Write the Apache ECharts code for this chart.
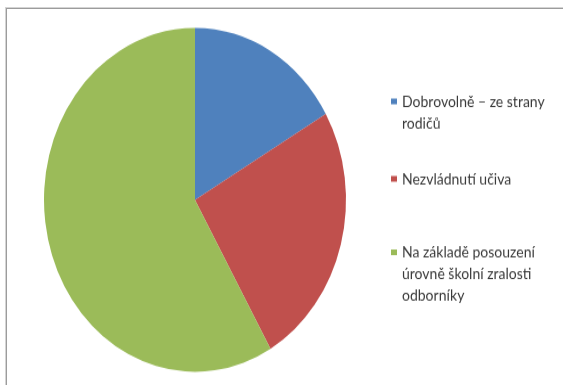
<!DOCTYPE html>
<html>
<head>
<meta charset="utf-8">
<script src="https://cdn.jsdelivr.net/npm/echarts@6/dist/echarts.min.js"></script>
<style>
  html, body { margin: 0; padding: 0; background: #fff; }
  #wrap { position: relative; width: 563px; height: 385px; overflow: hidden; background: #fff; }
  #frame { position: absolute; left: 6px; top: 8px; width: 700px; height: 500px;
           border-left: 1px solid #9c9c9c; border-top: 1px solid #9c9c9c;
           box-shadow: -1px -1px 0 #d4d4d4; }
  /* the chart area is drawn in a shorter box and stretched vertically */
  #chart { position: absolute; left: 0; top: 0; width: 563px; height: 338px;
           transform: scaleY(1.139); transform-origin: 0 0; }
</style>
</head>
<body>
<div id="wrap">
  <div id="frame"></div>
  <div id="chart"></div>
</div>
<script>
// Categories and their counts
const categories = [
  'Dobrovolně – ze strany rodičů',
  'Nezvládnutí učiva',
  'Na základě posouzení úrovně školní zralosti odborníky'
];
const values = [2, 3, 7];
// Legend text, broken into lines
const legendLines = [
  ['Dobrovolně – ze strany', 'rodičů'],
  ['Nezvládnutí učiva'],
  ['Na základě posouzení', 'úrovně školní zralosti', 'odborníky']
];
const colors = ['#4F81BD', '#C0504D', '#9BBB59'];

const lineH = 19;
const iconCenters = [89, 157, 221.5];
const fontFamily = 'Lato, "Open Sans", sans-serif';

// One legend block per category so each can sit at its own height.
// Legend text is centred on its marker, so empty lines are put in front
// to keep the marker level with the first line of text.
const legends = categories.map(function (name, i) {
  const n = legendLines[i].length;
  const lead = new Array(n - 1).fill('');
  return {
    data: [name],
    orient: 'vertical',
    left: 391,
    top: iconCenters[i] - (n - 0.5) * lineH,
    padding: 0,
    icon: 'rect',
    itemWidth: 6,
    itemHeight: 5,
    selectedMode: false,
    formatter: function () { return lead.concat(legendLines[i]).join('\n'); },
    textStyle: {
      fontFamily: fontFamily,
      fontSize: 14,
      color: '#3a3a3a',
      lineHeight: lineH
    }
  };
});

const chart = echarts.init(document.getElementById('chart'), null, { renderer: 'canvas' });
chart.setOption({
  animation: false,
  color: colors,
  legend: legends,
  series: [{
    type: 'pie',
    center: [195, 175.4],
    radius: 151,
    startAngle: 90,
    clockwise: true,
    label: { show: false },
    labelLine: { show: false },
    emphasis: { disabled: true },
    itemStyle: { borderWidth: 0 },
    data: categories.map(function (c, i) { return { name: c, value: values[i] }; })
  }]
});
</script>
</body>
</html>
